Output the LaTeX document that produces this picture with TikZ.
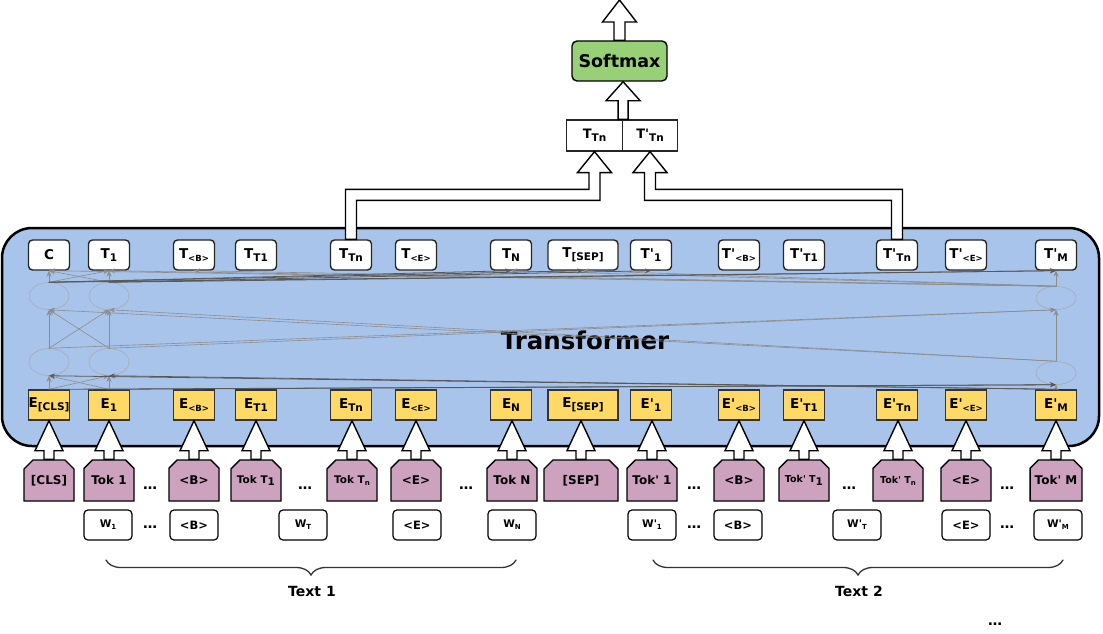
\documentclass[tikz,border=0pt]{standalone}
\usepackage{fontspec}
\setmainfont{DejaVu Sans}[Ligatures=TeXOff]
\usetikzlibrary{calc,arrows.meta,shapes.geometric,shapes.misc,decorations.pathreplacing}
\definecolor{trfill}{HTML}{A9C4EB}
\definecolor{embfill}{HTML}{FFD966}
\definecolor{tokfill}{HTML}{CDA2BE}
\definecolor{smfill}{HTML}{97D077}
% subscripts
\newcommand\lo[1]{\raisebox{-0.45ex}{\fontsize{10.5}{11}\selectfont #1}}
\newcommand\los[1]{\raisebox{-0.45ex}{\fontsize{8.5}{9}\selectfont #1}}
\newcommand\lw[1]{\raisebox{-0.4ex}{\fontsize{7}{7}\selectfont #1}}
\newcommand\sm{\fontsize{10.5}{12}\selectfont}
\newcommand\wsz{\fontsize{10.5}{12}\selectfont}
% block arrow from #1 up to #2 (half shaft, half head, head length)
\newcommand\blockup[5]{%
  \draw[barrow] let \p1=(#1), \p2=(#2) in
    (\x1-#3,\y1) -- (\x1-#3,\y2-#5) -- (\x1-#4,\y2-#5) -- (\x1,\y2)
    -- (\x1+#4,\y2-#5) -- (\x1+#3,\y2-#5) -- (\x1+#3,\y1) -- cycle;}
\tikzset{
  trbox/.style={draw=black, line width=2.5pt, rounded corners=30pt, fill=trfill},
  tbox/.style={draw=black!85, line width=1.4pt, rounded corners=4pt, fill=white,
    minimum height=30, inner sep=0pt},
  ebox/.style={draw=black!80, line width=1.4pt, fill=embfill, minimum height=30, inner sep=0pt},
  tok/.style={chamfered rectangle, chamfered rectangle corners={north west,north east},
    chamfered rectangle xsep=12pt, draw=black, line width=1.4pt, fill=tokfill,
    minimum height=41, inner sep=0pt, font=\bfseries\fontsize{12}{14}\selectfont},
  wbox/.style={draw=black, line width=1.2pt, rounded corners=4pt, fill=white,
    minimum width=48, minimum height=30, inner sep=0pt, font=\bfseries\fontsize{11.5}{13}\selectfont},
  pbox/.style={draw=black!85, line width=1.2pt, fill=white, minimum height=31, inner sep=0pt,
    font=\bfseries\fontsize{13}{15}\selectfont},
  nrn/.style={ellipse, draw=black!35, line width=0.5pt, minimum width=40, minimum height=27, inner sep=0pt},
  barrow/.style={draw=black, line width=1.4pt, fill=white, line join=miter},
  att/.style={draw=black!45, line width=0.6pt},
  attd/.style={draw=black!65, line width=0.8pt},
  dots/.style={inner sep=0pt, font=\bfseries\fontsize{14}{15}\selectfont},
  brc/.style={decorate, decoration={brace, mirror, amplitude=15pt}, line width=1.3pt, draw=black!80}
}
\begin{document}
\begin{tikzpicture}[x=1pt, y=-1pt, >={Stealth[length=6pt,width=5pt]}, line cap=round,
  font=\bfseries\fontsize{13.5}{15}\selectfont]
\useasboundingbox (0,0) rectangle (1103,634);

% Transformer block
\draw[trbox] (2,228) rectangle (1099,446);
\node (trf) at (585,340) {\fontsize{24.5}{28}\selectfont Transformer};

% output and embedding boxes
\foreach \c/\x/\w/\ta/\ea in {CLS/49/41/C/E\lo{[CLS]}, 1/109/41/T\lo{1}/E\lo{1},
    B/194/41/T\los{<B>}/E\los{<B>}, T1/256/41/T\lo{T1}/E\lo{T1}, Tn/351/41/T\lo{Tn}/E\lo{Tn},
    E/416/41/T\los{<E>}/E\los{<E>}, N/511/41/T\lo{N}/E\lo{N}, SEP/583/70/T\lo{[SEP]}/E\lo{[SEP]},
    p1/651/41/T'\lo{1}/E'\lo{1}, pB/739/41/T'\los{<B>}/E'\los{<B>}, pT1/804/41/T'\lo{T1}/E'\lo{T1},
    pTn/897/41/T'\lo{Tn}/E'\lo{Tn}, pE/966/41/T'\los{<E>}/E'\los{<E>}, pM/1056/41/T'\lo{M}/E'\lo{M}}{
  \node[tbox, minimum width=\w] (T\c) at (\x,255) {\ta};
  \node[ebox, minimum width=\w] (E\c) at (\x,405) {\ea};
}

% hidden units
\node[nrn] (L1a) at (49,362) {};
\node[nrn] (L1b) at (109,362) {};
\node[nrn, minimum height=23] (L1m) at (1056,373) {};
\node[nrn] (L2a) at (49,296) {};
\node[nrn] (L2b) at (109,296) {};
\node[nrn, minimum height=23] (L2m) at (1056,298) {};

\foreach \a/\b in {ECLS/L1a, E1/L1b, ECLS/L1b, E1/L1a, EpM/L1m}
  \draw[att,->] (\a.north) -- (\b.south);
\foreach \a/\b in {EpM/L1a, EpM/L1b, ECLS/L1m, E1/L1m}
  \draw[attd,->] (\a.north) -- (\b.south);
\foreach \a/\b in {L1a/L2a, L1b/L2b, L1a/L2b, L1b/L2a, L1m/L2m, L1a/L2m, L1b/L2m, L1m/L2a, L1m/L2b}
  \draw[att,->] (\a.north) -- (\b.south);
\foreach \a/\b in {L2a/TCLS, L2b/T1, L2a/T1, L2b/TCLS, L2m/TpM, L2m/TCLS, L2m/T1, L2m/TB, L2m/TN, L2m/TSEP}
  \draw[att,->] (\a.north) -- (\b.south);
\foreach \a/\b in {L2a/TpM, L2b/TpM, L2a/TSEP, L2b/Tp1, L2a/TN}
  \draw[attd,->] (\a.north) -- (\b.south);

% input tokens
\foreach \c/\x/\w/\ka in {CLS/49/50/{[CLS]}, 1/109/50/Tok 1, B/194/50/<B>, T1/256/50/{\sm Tok T\lo{1}},
    Tn/352/50/{\sm Tok T\lw{n}}, E/416/50/<E>, N/512/50/Tok N, SEP/581/74/{[SEP]},
    p1/652/50/Tok' 1, pB/739/50/<B>, pT1/804/50/{\fontsize{9.5}{11}\selectfont Tok' T\lo{1}},
    pTn/898/50/{\fontsize{9.5}{11}\selectfont Tok' T\lw{n}}, pE/966/50/<E>, pM/1056/50/Tok' M}{
  \node[tok, minimum width=\w] (k\c) at (\x,480.5) {\ka};
  \blockup{k\c.north}{E\c.south}{5pt}{14pt}{30pt}
}

% words
\node[wbox] (w1) at (108,525) {\wsz W\lw{1}};
\node[wbox] (wB) at (194,525) {<B>};
\node[wbox] (wT) at (303,525) {\wsz W\lw{T}};
\node[wbox] (wE) at (417,525) {<E>};
\node[wbox] (wN) at (512,525) {\wsz W\lw{N}};
\node[wbox] (wp1) at (652,525) {\wsz W'\lw{1}};
\node[wbox] (wpB) at (738,525) {<B>};
\node[wbox] (wpT) at (857,525) {\wsz W'\lw{T}};
\node[wbox] (wpE) at (966,525) {<E>};
\node[wbox] (wpM) at (1058,525) {\wsz W'\lw{M}};

% dots
\foreach \x/\y [count=\i] in {150/488, 305/488, 466/488, 694/488, 849/488, 1007/488,
    150/527, 694/527, 1007/527, 995/624}
  \node[dots] (d\i) at (\x,\y) {\ldots};

% texts
\draw[brc] (106,560) -- (516,560);
\node[font=\bfseries\fontsize{14}{16}\selectfont] (txt1) at (312,591) {Text 1};
\draw[brc] (653,560) -- (1063,560);
\node[font=\bfseries\fontsize{14}{16}\selectfont] (txt2) at (859,591) {Text 2};

% classification head
\node[pbox, minimum width=56] (oTn) at (594.5,135.5) {T\lo{Tn}};
\node[pbox, minimum width=55] (opTn) at (650,135.5) {T'\lo{Tn}};
\node[draw=black, line width=1.4pt, rounded corners=5pt, fill=smfill, minimum width=95,
  minimum height=40, inner sep=0pt, font=\bfseries\fontsize{17.5}{20}\selectfont]
  (soft) at (619.5,61) {Softmax};
\coordinate (out) at (619.5,0);
\blockup{oTn.north east}{soft.south}{5pt}{17pt}{19pt}
\blockup{soft.north}{out}{5.5pt}{17pt}{22pt}

\draw[barrow] let \p1=(TTn.north), \p2=(oTn.south) in
  (\x1-5.5pt,\y1) -- (\x1-5.5pt,\y1+50pt) -- (\x2-5.5pt,\y1+50pt) -- (\x2-5.5pt,\y2-21pt)
  -- (\x2-17pt,\y2-21pt) -- (\x2,\y2) -- (\x2+17pt,\y2-21pt) -- (\x2+5.5pt,\y2-21pt)
  -- (\x2+5.5pt,\y1+39pt) -- (\x1+5.5pt,\y1+39pt) -- (\x1+5.5pt,\y1) -- cycle;
\draw[barrow] let \p1=(TpTn.north), \p2=(opTn.south) in
  (\x1+5.5pt,\y1) -- (\x1+5.5pt,\y1+50pt) -- (\x2+5.5pt,\y1+50pt) -- (\x2+5.5pt,\y2-21pt)
  -- (\x2+17pt,\y2-21pt) -- (\x2,\y2) -- (\x2-17pt,\y2-21pt) -- (\x2-5.5pt,\y2-21pt)
  -- (\x2-5.5pt,\y1+39pt) -- (\x1-5.5pt,\y1+39pt) -- (\x1-5.5pt,\y1) -- cycle;
\end{tikzpicture}
\end{document}
